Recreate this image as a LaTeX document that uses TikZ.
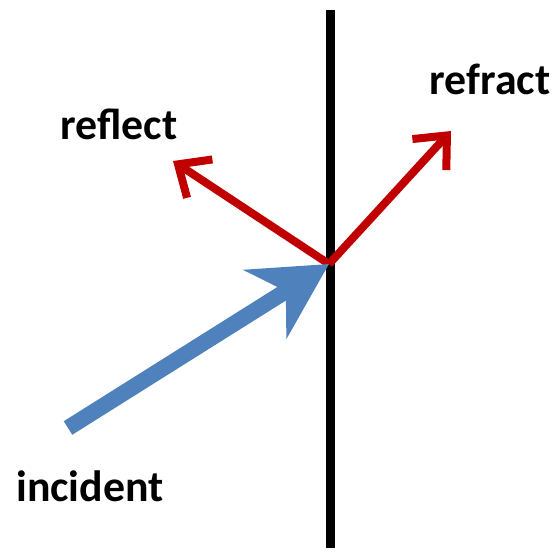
\documentclass[tikz,border=0pt]{standalone}
\usepackage{fontspec}
\setmainfont{Carlito}
\usetikzlibrary{arrows.meta}
\definecolor{rayblue}{RGB}{79,129,189}
\definecolor{rayred}{RGB}{192,0,0}

\begin{document}
\begin{tikzpicture}[
    x=1bp, y=-1bp,
    label/.style={font=\bfseries\fontsize{44}{50}\selectfont, inner sep=0pt},
    wall/.style={line width=9bp, black},
    incray/.style={line width=16bp, rayblue, -{Stealth[length=75bp, width=80bp, inset=24bp]}},
    outray/.style={line width=8bp, rayred, -{Straight Barb[length=26bp, width=46bp, line width=8bp]}}
]
\useasboundingbox (0,0) rectangle (558,552);

% --- Surface ---
\coordinate (top) at (330,10);
\coordinate (bottom) at (330,548);
\coordinate (hit) at (329,264);
\draw[wall] (top) -- (bottom);

% --- Rays ---
\coordinate (src) at (68,428);
\coordinate (refl) at (173,161);
\coordinate (refr) at (451,131);

\draw[outray] (hit) -- (refl);
\draw[outray] (hit) -- (refr);
\draw[incray] (src) -- (hit);

% --- Labels ---
\node[label] (lrefl) at (119,124) {reflect};
\node[label] (lrefr) at (490,79) {refract};
\node[label] (linc) at (90,486) {incident};

\end{tikzpicture}
\end{document}
